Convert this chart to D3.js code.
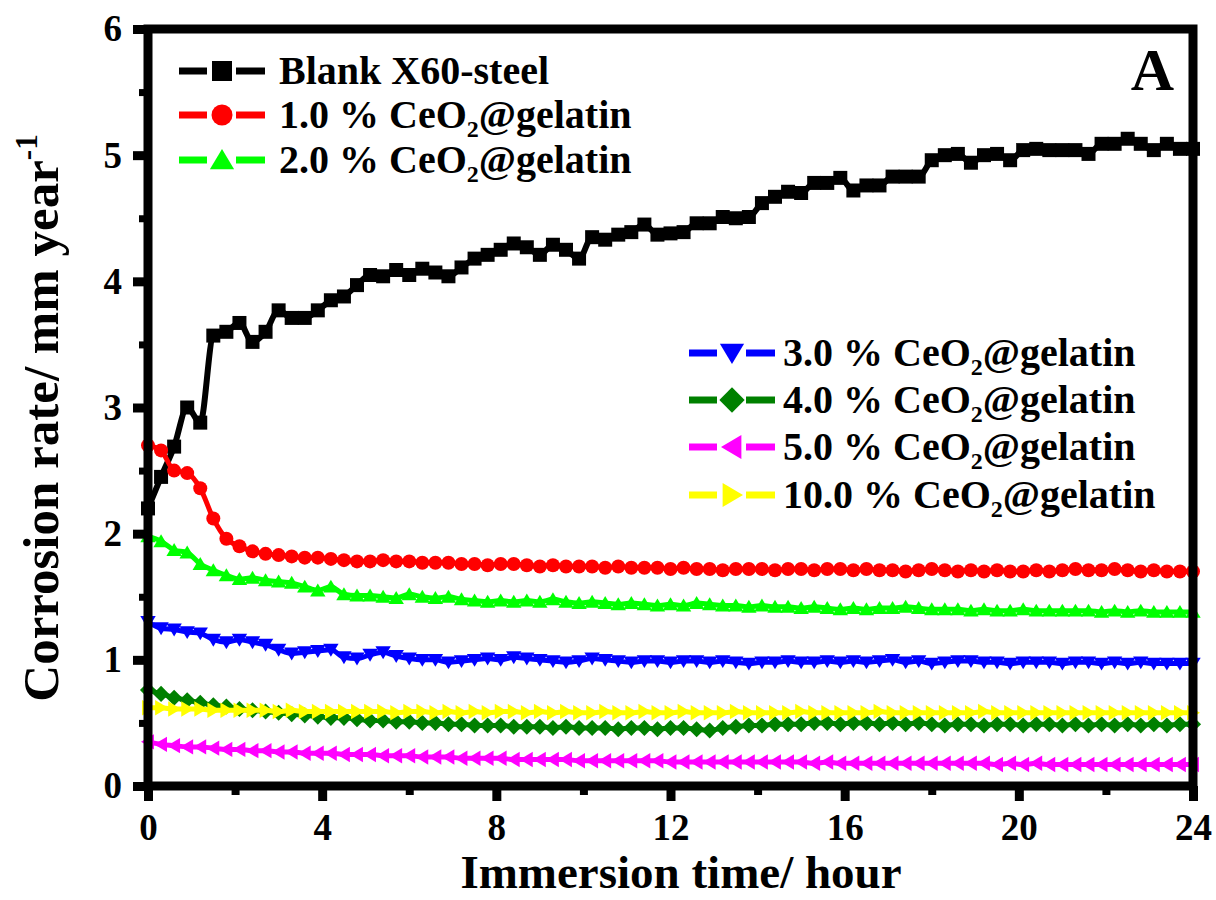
<!DOCTYPE html>
<html>
<head>
<meta charset="utf-8">
<script src="https://cdn.jsdelivr.net/npm/d3@7"></script>
<style>
  html, body { margin: 0; padding: 0; background: #fff; }
  svg text { font-family: "Liberation Serif", "Times New Roman", serif; font-weight: bold; }
</style>
</head>
<body>
<div id="chart"></div>
<script>
// immersion time (hours)
const times = [
  0, 0.3, 0.6, 0.9, 1.2, 1.5, 1.8, 2.1, 2.4, 2.7,
  3, 3.3, 3.6, 3.9, 4.2, 4.5, 4.8, 5.1, 5.4, 5.7,
  6, 6.3, 6.6, 6.9, 7.2, 7.5, 7.8, 8.1, 8.4, 8.7,
  9, 9.3, 9.6, 9.9, 10.2, 10.5, 10.8, 11.1, 11.4, 11.7,
  12, 12.3, 12.6, 12.9, 13.2, 13.5, 13.8, 14.1, 14.4, 14.7,
  15, 15.3, 15.6, 15.9, 16.2, 16.5, 16.8, 17.1, 17.4, 17.7,
  18, 18.3, 18.6, 18.9, 19.2, 19.5, 19.8, 20.1, 20.4, 20.7,
  21, 21.3, 21.6, 21.9, 22.2, 22.5, 22.8, 23.1, 23.4, 23.7,
  24
];

const blank = [
  2.20, 2.45, 2.69, 3.00, 2.88, 3.57, 3.60, 3.67, 3.52, 3.60,
  3.77, 3.71, 3.71, 3.77, 3.85, 3.88, 3.97, 4.05, 4.04, 4.09,
  4.05, 4.10, 4.07, 4.04, 4.11, 4.18, 4.21, 4.25, 4.30, 4.27,
  4.21, 4.29, 4.25, 4.18, 4.35, 4.33, 4.37, 4.39, 4.45, 4.37,
  4.38, 4.39, 4.46, 4.46, 4.51, 4.50, 4.51, 4.62, 4.67, 4.71,
  4.70, 4.78, 4.78, 4.82, 4.72, 4.76, 4.76, 4.83, 4.83, 4.83,
  4.96, 5.00, 5.01, 4.94, 5.00, 5.01, 4.96, 5.04, 5.05, 5.04,
  5.04, 5.04, 5.01, 5.09, 5.09, 5.13, 5.09, 5.04, 5.09, 5.05,
  5.05
];

const ceo1 = [
  2.70, 2.66, 2.50, 2.48, 2.36, 2.12, 1.96, 1.90, 1.86, 1.84,
  1.83, 1.82, 1.81, 1.81, 1.80, 1.79, 1.78, 1.78, 1.79, 1.78,
  1.78, 1.77, 1.77, 1.77, 1.76, 1.76, 1.75, 1.76, 1.76, 1.75,
  1.74, 1.75, 1.74, 1.74, 1.74, 1.73, 1.74, 1.73, 1.73, 1.73,
  1.72, 1.73, 1.72, 1.72, 1.71, 1.72, 1.72, 1.72, 1.71, 1.72,
  1.72, 1.71, 1.72, 1.72, 1.71, 1.72, 1.71, 1.71, 1.70, 1.71,
  1.72, 1.71, 1.70, 1.71, 1.70, 1.71, 1.70, 1.70, 1.71, 1.70,
  1.71, 1.72, 1.71, 1.71, 1.72, 1.71, 1.70, 1.71, 1.70, 1.70,
  1.70
];

const ceo2 = [
  1.98, 1.94, 1.87, 1.85, 1.76, 1.71, 1.67, 1.64, 1.65, 1.63,
  1.62, 1.61, 1.58, 1.55, 1.58, 1.52, 1.51, 1.51, 1.50, 1.49,
  1.52, 1.50, 1.49, 1.50, 1.48, 1.47, 1.46, 1.47, 1.46, 1.47,
  1.46, 1.48, 1.46, 1.45, 1.46, 1.45, 1.44, 1.45, 1.44, 1.43,
  1.44, 1.43, 1.45, 1.44, 1.43, 1.43, 1.42, 1.43, 1.42, 1.42,
  1.41, 1.42, 1.41, 1.40, 1.41, 1.40, 1.41, 1.41, 1.42, 1.41,
  1.40, 1.40, 1.40, 1.39, 1.40, 1.39, 1.39, 1.40, 1.39, 1.39,
  1.39, 1.39, 1.39, 1.38, 1.39, 1.38, 1.39, 1.38, 1.38, 1.38,
  1.38
];

const ceo3 = [
  1.30, 1.25, 1.24, 1.22, 1.21, 1.16, 1.14, 1.16, 1.14, 1.12,
  1.08, 1.05, 1.06, 1.07, 1.08, 1.02, 1.01, 1.04, 1.06, 1.03,
  1.01, 1.00, 1.00, 0.98, 0.99, 1.00, 1.01, 1.00, 1.02, 1.01,
  1.00, 0.99, 0.98, 0.99, 1.01, 1.00, 0.99, 0.98, 0.99, 0.99,
  0.98, 0.99, 0.99, 0.98, 0.99, 0.98, 0.97, 0.98, 0.98, 0.99,
  0.98, 0.98, 0.99, 0.98, 0.99, 0.98, 0.99, 1.00, 0.98, 0.99,
  0.97, 0.98, 0.99, 0.99, 0.98, 0.98, 0.97, 0.98, 0.98, 0.98,
  0.97, 0.98, 0.98, 0.97, 0.98, 0.97, 0.98, 0.97, 0.97, 0.97,
  0.97
];

const ceo4 = [
  0.76, 0.73, 0.70, 0.68, 0.66, 0.64, 0.63, 0.61, 0.60, 0.59,
  0.58, 0.57, 0.56, 0.55, 0.54, 0.54, 0.53, 0.52, 0.52, 0.51,
  0.51, 0.50, 0.50, 0.49, 0.49, 0.48, 0.48, 0.48, 0.47, 0.47,
  0.47, 0.46, 0.47, 0.46, 0.46, 0.46, 0.45, 0.46, 0.46, 0.45,
  0.46, 0.46, 0.45, 0.44, 0.46, 0.47, 0.48, 0.48, 0.49, 0.49,
  0.49, 0.50, 0.50, 0.49, 0.50, 0.50, 0.49, 0.50, 0.49, 0.50,
  0.49, 0.48, 0.49, 0.49, 0.48, 0.49, 0.49, 0.48, 0.49, 0.49,
  0.48, 0.49, 0.48, 0.49, 0.48, 0.49, 0.48, 0.49, 0.48, 0.49,
  0.49
];

const ceo5 = [
  0.35, 0.33, 0.32, 0.31, 0.31, 0.30, 0.29, 0.29, 0.28, 0.28,
  0.27, 0.27, 0.26, 0.26, 0.26, 0.25, 0.25, 0.25, 0.24, 0.24,
  0.24, 0.23, 0.23, 0.23, 0.22, 0.22, 0.22, 0.22, 0.21, 0.21,
  0.21, 0.21, 0.21, 0.20, 0.20, 0.20, 0.20, 0.20, 0.20, 0.20,
  0.19, 0.19, 0.19, 0.19, 0.19, 0.19, 0.19, 0.19, 0.19, 0.19,
  0.19, 0.18, 0.19, 0.18, 0.18, 0.18, 0.18, 0.18, 0.18, 0.18,
  0.18, 0.18, 0.18, 0.18, 0.18, 0.17, 0.18, 0.17, 0.18, 0.17,
  0.17, 0.17, 0.17, 0.17, 0.17, 0.17, 0.17, 0.17, 0.17, 0.17,
  0.17
];

const ceo10 = [
  0.62, 0.62, 0.61, 0.61, 0.61, 0.60, 0.60, 0.60, 0.60, 0.60,
  0.59, 0.60, 0.59, 0.59, 0.59, 0.59, 0.59, 0.59, 0.59, 0.58,
  0.59, 0.59, 0.58, 0.59, 0.58, 0.59, 0.58, 0.59, 0.59, 0.58,
  0.59, 0.58, 0.59, 0.58, 0.58, 0.59, 0.58, 0.58, 0.59, 0.58,
  0.58, 0.59, 0.58, 0.58, 0.58, 0.59, 0.58, 0.58, 0.58, 0.58,
  0.59, 0.58, 0.58, 0.58, 0.58, 0.58, 0.59, 0.58, 0.58, 0.58,
  0.58, 0.58, 0.58, 0.58, 0.59, 0.58, 0.58, 0.58, 0.58, 0.58,
  0.58, 0.58, 0.58, 0.58, 0.58, 0.58, 0.58, 0.58, 0.58, 0.58,
  0.58
];

const seriesNames = ["Blank X60-steel", "1.0 %", "2.0 %", "3.0 %", "4.0 %", "5.0 %", "10.0 %"];
const seriesValues = [blank, ceo1, ceo2, ceo3, ceo4, ceo5, ceo10];
const seriesColors = ["#000000", "#ff0000", "#00ff00", "#0000ff", "#008000", "#ff00ff", "#ffff00"];
const seriesShapes = ["square", "circle", "up", "down", "diamond", "left", "right"];

const xTicks = [0, 4, 8, 12, 16, 20, 24];
const xMinor = [2, 6, 10, 14, 18, 22];
const yTicks = [0, 1, 2, 3, 4, 5, 6];
const yMinor = [0.5, 1.5, 2.5, 3.5, 4.5, 5.5];

const width = 1216, height = 900;
const margin = { left: 148, right: 23, top: 29, bottom: 114 };

const svg = d3.select("#chart").append("svg")
  .attr("width", width)
  .attr("height", height);

const x = d3.scaleLinear().domain([0, 24]).range([margin.left, width - margin.right]);
const y = d3.scaleLinear().domain([0, 6]).range([height - margin.bottom, margin.top]);

// marker path, s = half size
function markerPath(shape, s) {
  switch (shape) {
    case "square": return `M${-s},${-s}H${s}V${s}H${-s}Z`;
    case "circle": return `M${s},0A${s},${s} 0 1,1 ${-s},0A${s},${s} 0 1,1 ${s},0Z`;
    case "up": return `M0,${-s}L${s * 1.1},${s * 0.85}L${-s * 1.1},${s * 0.85}Z`;
    case "down": return `M0,${s}L${s * 1.1},${-s * 0.85}L${-s * 1.1},${-s * 0.85}Z`;
    case "diamond": return `M0,${-s * 1.15}L${s * 1.15},0L0,${s * 1.15}L${-s * 1.15},0Z`;
    case "left": return `M${-s},0L${s * 0.85},${-s * 1.1}L${s * 0.85},${s * 1.1}Z`;
    case "right": return `M${s},0L${-s * 0.85},${-s * 1.1}L${-s * 0.85},${s * 1.1}Z`;
  }
}

const line = d3.line()
  .x((d) => x(d[0]))
  .y((d) => y(d[1]))
  .curve(d3.curveMonotoneX);

const plot = svg.append("g");

seriesValues.forEach((vals, i) => {
  const pts = times.map((t, j) => [t, vals[j]]);
  const g = plot.append("g");
  g.append("path")
    .attr("d", line(pts))
    .attr("fill", "none")
    .attr("stroke", seriesColors[i])
    .attr("stroke-width", i === 0 ? 6 : 5)
    .attr("stroke-linejoin", "round");
  g.selectAll("path.m")
    .data(pts)
    .enter()
    .append("path")
    .attr("class", "m")
    .attr("transform", (d) => `translate(${x(d[0])},${y(d[1])})`)
    .attr("d", markerPath(seriesShapes[i], 7))
    .attr("fill", seriesColors[i]);
});

// frame
const x0 = x(0), x1 = x(24), yb = y(0), yt = y(6);
svg.append("rect")
  .attr("x", x0).attr("y", yt)
  .attr("width", x1 - x0).attr("height", yb - yt)
  .attr("fill", "none")
  .attr("stroke", "#000")
  .attr("stroke-width", 9);

// axes
function styleAxis(g, w) {
  g.select(".domain").remove();
  g.selectAll(".tick line").attr("stroke", "#000").attr("stroke-width", w);
  g.selectAll(".tick text").attr("fill", "#000").attr("font-size", 37);
}

svg.append("g")
  .attr("transform", `translate(0,${yb})`)
  .call(d3.axisBottom(x).tickValues(xTicks).tickSize(15).tickPadding(13).tickFormat(d3.format("d")))
  .call((g) => styleAxis(g, 9));

svg.append("g")
  .attr("transform", `translate(0,${yb})`)
  .call(d3.axisBottom(x).tickValues(xMinor).tickSize(9).tickFormat(""))
  .call((g) => styleAxis(g, 8));

svg.append("g")
  .attr("transform", `translate(${x0},0)`)
  .call(d3.axisLeft(y).tickValues(yTicks).tickSize(15).tickPadding(11).tickFormat(d3.format("d")))
  .call((g) => styleAxis(g, 9));

svg.append("g")
  .attr("transform", `translate(${x0},0)`)
  .call(d3.axisLeft(y).tickValues(yMinor).tickSize(9).tickFormat(""))
  .call((g) => styleAxis(g, 7));

// axis titles
svg.append("text")
  .attr("x", 681)
  .attr("y", 888)
  .attr("text-anchor", "middle")
  .attr("font-size", 47)
  .text("Immersion time/ hour");

const yTitle = svg.append("text")
  .attr("transform", `translate(58,418) rotate(-90)`)
  .attr("text-anchor", "middle")
  .attr("font-size", 51);
yTitle.append("tspan").text("Corrosion rate/ mm year");
yTitle.append("tspan").attr("font-size", 31).attr("dy", -21).text("-1");

// panel letter
svg.append("text")
  .attr("x", 1174)
  .attr("y", 90)
  .attr("text-anchor", "end")
  .attr("font-size", 60)
  .text("A");

// legends
function legendRow(i, lx, ly, big, tx) {
  const g = svg.append("g").attr("transform", `translate(${lx},${ly})`);
  const c = seriesColors[i];
  g.append("line").attr("x1", 0).attr("x2", 28).attr("y1", 0).attr("y2", 0)
    .attr("stroke", c).attr("stroke-width", 7);
  g.append("line").attr("x1", 57).attr("x2", 86).attr("y1", 0).attr("y2", 0)
    .attr("stroke", c).attr("stroke-width", 7);
  g.append("path")
    .attr("transform", "translate(43,0)")
    .attr("d", markerPath(seriesShapes[i], big))
    .attr("fill", c);
  const t = g.append("text").attr("x", tx).attr("y", 13).attr("font-size", 40);
  if (i === 0) {
    t.text(seriesNames[i]);
  } else {
    t.append("tspan").text(seriesNames[i] + " CeO");
    t.append("tspan").attr("font-size", 24).attr("dy", 9).text("2");
    t.append("tspan").attr("dy", -9).text("@gelatin");
  }
}

legendRow(0, 179, 71, 10, 100);
legendRow(1, 179, 115, 10.5, 100);
legendRow(2, 179, 160, 11, 100);
legendRow(3, 689, 353, 11, 94);
legendRow(4, 689, 400, 11, 94);
legendRow(5, 689, 447, 11, 94);
legendRow(6, 689, 495, 11, 94);
</script>
</body>
</html>
